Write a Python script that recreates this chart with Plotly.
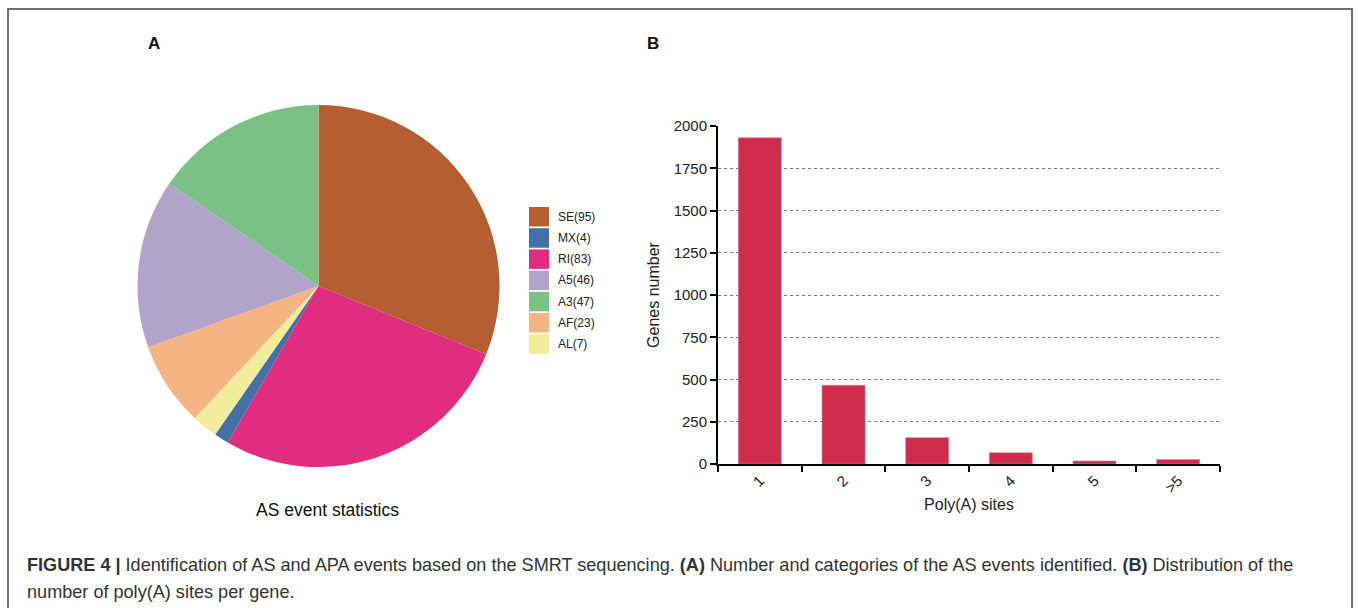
import plotly.graph_objects as go

# Panel A: alternative splicing event categories and counts
as_types = ["SE", "MX", "RI", "A5", "A3", "AF", "AL"]
as_counts = [95, 4, 83, 46, 47, 23, 7]
as_colors = ["#B55E32", "#4370A8", "#E22C80", "#B1A3C9", "#7AC186", "#F6B484", "#F1ED9A"]
# order the slices are drawn, clockwise from 12 o'clock
pie_order = ["SE", "RI", "MX", "AL", "AF", "A5", "A3"]

# Panel B: number of poly(A) sites per gene
polya_sites = ["1", "2", "3", "4", "5", ">5"]
genes_number = [1930, 466, 156, 67, 18, 26]
y_ticks = [0, 250, 500, 750, 1000, 1250, 1500, 1750, 2000]

W, H = 1358, 608
FONT = "Liberation Sans, Arial, sans-serif"


def px(x):
    return x / W


def py(y):
    return (H - y) / H


count_of = dict(zip(as_types, as_counts))
color_of = dict(zip(as_types, as_colors))

fig = go.Figure()

# gridlines only (no labels) so the top edge stays clean
grid_vals = [v for v in y_ticks if 0 < v < 2000]
fig.add_trace(go.Scatter(x=[polya_sites[0]], y=[0], yaxis="y2", xaxis="x",
                         mode="markers", marker=dict(opacity=0), showlegend=False,
                         hoverinfo="skip"))

fig.add_trace(go.Pie(
    labels=pie_order,
    values=[count_of[t] for t in pie_order],
    marker=dict(colors=[color_of[t] for t in pie_order], line=dict(width=0)),
    sort=False,
    direction="clockwise",
    rotation=0,
    textinfo="none",
    showlegend=False,
    domain=dict(x=[px(137), px(500)], y=[py(467), py(105)]),
))

fig.add_trace(go.Bar(
    x=polya_sites,
    y=genes_number,
    marker=dict(color="#CF2B4A", line=dict(color="#E07A8E", width=0.6)),
    showlegend=False,
    xaxis="x", yaxis="y",
))

fig.update_layout(
    template="none",
    width=W, height=H,
    autosize=False,
    showlegend=False,
    margin=dict(l=0, r=0, t=0, b=0, pad=0),
    paper_bgcolor="white", plot_bgcolor="rgba(0,0,0,0)",
    font=dict(family=FONT, color="#222"),
    bargap=0.486,
    xaxis=dict(
        type="category",
        categoryorder="array", categoryarray=polya_sites,
        domain=[px(718), px(1220)],
        anchor="y",
        automargin=False,
        showline=True, linecolor="black", linewidth=2,
        ticks="outside", tickson="boundaries", ticklen=6, tickwidth=2, tickcolor="black",
        tickangle=-45, tickfont=dict(size=15, color="#222"),
        title=dict(text="Poly(A) sites", font=dict(size=16, color="#222"), standoff=4),
        showgrid=False, zeroline=False,
    ),
    yaxis=dict(
        domain=[py(464), py(126)],
        anchor="x",
        automargin=False,
        range=[0, 2000],
        tickvals=y_ticks,
        showline=True, linecolor="black", linewidth=2,
        ticks="outside", ticklen=6, tickwidth=2, tickcolor="black",
        tickfont=dict(size=15, color="#222"),
        title=dict(text="Genes number", font=dict(size=16, color="#222"), standoff=10),
        showgrid=False, zeroline=False,
    ),
    yaxis2=dict(
        domain=[py(464), py(126)],
        anchor="x", overlaying="y",
        automargin=False,
        range=[0, 2000],
        tickvals=grid_vals, showticklabels=False, ticks="",
        showgrid=True, gridcolor="#7a7a7a", gridwidth=1, griddash="3px,3px",
        zeroline=False, showline=False,
    ),
)

shapes = []
annotations = []

# legend for panel A
leg_x0, leg_y0, pitch, sw, sh = 529, 207, 21.2, 20, 19.5
for i, (t, n, c) in enumerate(zip(as_types, as_counts, as_colors)):
    top = leg_y0 + i * pitch
    shapes.append(dict(type="rect", xref="paper", yref="paper",
                       x0=px(leg_x0), x1=px(leg_x0 + sw), y0=py(top + sh), y1=py(top),
                       fillcolor=c, line=dict(width=0)))
    annotations.append(dict(text=f"{t}({n})", xref="paper", yref="paper",
                            x=px(556), y=py(top + sh / 2), xanchor="left", yanchor="middle",
                            showarrow=False, font=dict(size=12, color="#222")))

annotations += [
    dict(text="AS event statistics", xref="paper", yref="paper", x=px(327), y=py(510),
         xanchor="center", yanchor="middle", showarrow=False, font=dict(size=17.5, color="#111")),
    dict(text="<b>A</b>", xref="paper", yref="paper", x=px(154), y=py(43),
         xanchor="center", yanchor="middle", showarrow=False, font=dict(size=17, color="#111")),
    dict(text="<b>B</b>", xref="paper", yref="paper", x=px(653), y=py(43),
         xanchor="center", yanchor="middle", showarrow=False, font=dict(size=17, color="#111")),
    dict(text="<b>FIGURE 4 |</b> Identification of AS and APA events based on the SMRT sequencing. "
              "<b>(A)</b> Number and categories of the AS events identified. "
              "<b>(B)</b> Distribution of the",
         xref="paper", yref="paper", x=px(25), y=py(565), xanchor="left", yanchor="middle",
         showarrow=False, font=dict(size=18.1, color="#333")),
    dict(text="number of poly(A) sites per gene.",
         xref="paper", yref="paper", x=px(25), y=py(592), xanchor="left", yanchor="middle",
         showarrow=False, font=dict(size=18.1, color="#333")),
]

# outer frame
shapes.append(dict(type="rect", xref="paper", yref="paper",
                   x0=px(8), x1=px(1352), y0=-0.05, y1=py(9),
                   line=dict(color="#6e6e6e", width=2), fillcolor="rgba(0,0,0,0)", layer="above"))

fig.update_layout(shapes=shapes, annotations=annotations)

fig.write_html("out.html")
